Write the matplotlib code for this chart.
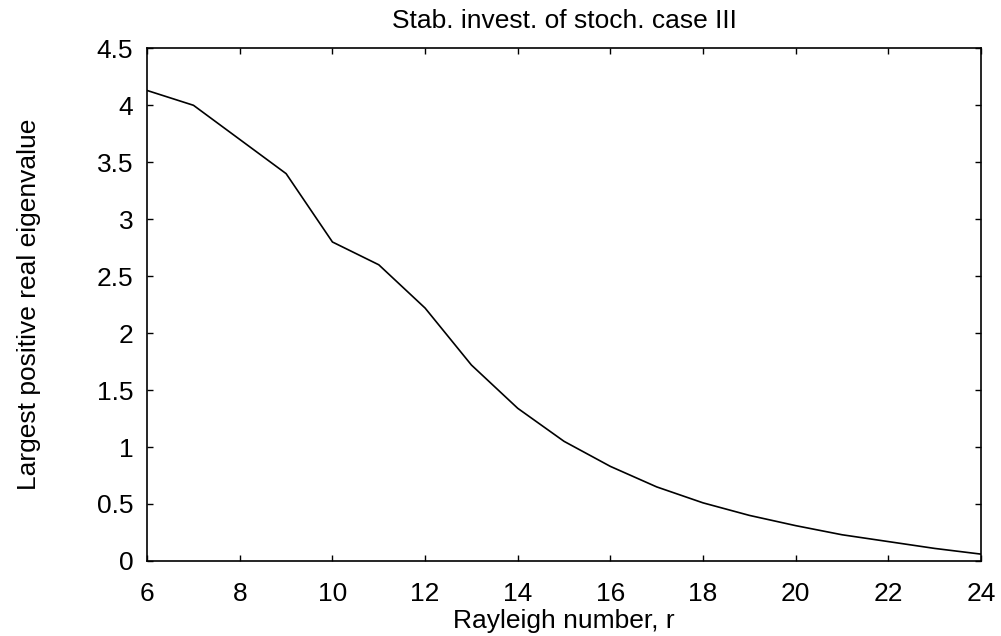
import matplotlib
matplotlib.use("Agg")
import matplotlib.pyplot as plt

# largest positive real eigenvalue vs Rayleigh number
rayleigh_r = [6, 7, 8, 9, 10, 11, 12, 13, 14, 15, 16, 17, 18, 19, 20, 21, 22, 23, 24]
eigenvalue = [4.13, 4.0, 3.7, 3.4, 2.8, 2.6, 2.22, 1.72, 1.34, 1.05, 0.83, 0.65, 0.51,
              0.40, 0.31, 0.23, 0.17, 0.11, 0.06]

xticks = list(range(6, 25, 2))
yticks = [0, 0.5, 1, 1.5, 2, 2.5, 3, 3.5, 4, 4.5]
ytick_labels = ['0', '0.5', '1', '1.5', '2', '2.5', '3', '3.5', '4', '4.5']

plt.rcParams['font.family'] = ['Liberation Sans', 'DejaVu Sans']

fig = plt.figure(figsize=(10.01, 6.36), dpi=100)
ax = fig.add_axes([0.147, 0.118, 0.833, 0.806])

ax.plot(rayleigh_r, eigenvalue, color='black', linewidth=1.2)

ax.set_xlim(6, 24)
ax.set_ylim(0, 4.5)
ax.set_xticks(xticks)
ax.set_yticks(yticks)
ax.set_yticklabels(ytick_labels)
ax.tick_params(direction='in', top=True, right=True, length=4.5, width=1,
               labelsize=19)
ax.tick_params(axis='x', pad=15)
ax.tick_params(axis='y', pad=10)
for s in ax.spines.values():
    s.set_linewidth(1.2)

ax.set_title('Stab. invest. of stoch. case III', fontsize=19, pad=15)
ax.set_xlabel('Rayleigh number, r', fontsize=19, labelpad=2)
ax.set_ylabel('Largest positive real eigenvalue', fontsize=19, labelpad=40)

fig.savefig('out.png', dpi=100)
